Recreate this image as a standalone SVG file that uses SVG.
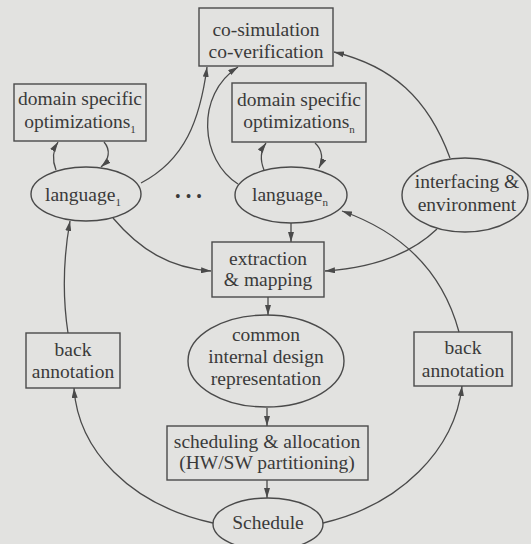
<svg xmlns="http://www.w3.org/2000/svg" width="531" height="544" viewBox="0 0 531 544">
<defs>
<marker id="ah" viewBox="0 0 10 6" refX="10" refY="3" markerWidth="10" markerHeight="6" markerUnits="userSpaceOnUse" orient="auto">
<path d="M0,0 L10,3 L0,6 Z" fill="#4a4a4a"/>
</marker>
</defs>
<style>
.bg{fill:#e2e2e0}
.n{fill:none;stroke:#4a4a4a;stroke-width:1.4}
.t{font-family:'Liberation Serif','Noto Serif','DejaVu Serif','FreeSerif','Tinos','Times New Roman',Times,serif;font-size:19.5px;fill:#3a3a3a;text-anchor:middle}
.s{font-size:11px}
.d{font-size:16px;letter-spacing:5px}
.c{fill:none;stroke:#4a4a4a;stroke-width:1.3;marker-end:url(#ah)}
</style>
<rect class="bg" x="0" y="0" width="531" height="544"/>
<g id="connectors">
<path class="c" d="M56 170 C52 160 53 150 58 142"/>
<path class="c" d="M104 142 C111 150 109 160 101 167"/>
<path class="c" d="M141 183 C185 160 200 120 207 67"/>
<path class="c" d="M238 184 C200 160 195 95 238 67"/>
<path class="c" d="M264 170 C260 160 261 150 266 143"/>
<path class="c" d="M315 143 C323 150 323 160 319 168"/>
<path class="c" d="M450 158 C428 98 392 66 334 52"/>
<path class="c" d="M113 218 C140 250 170 268 211 271"/>
<path class="c" d="M291 223 L291 242"/>
<path class="c" d="M437 229 C410 255 370 268 325 271"/>
<path class="c" d="M459 332 C445 280 410 235 342 211"/>
<path class="c" d="M268 297 L268 315"/>
<path class="c" d="M267 408 L267 426"/>
<path class="c" d="M267 480 L267 498"/>
<path class="c" d="M213 523 C130 505 78 450 74 388"/>
<path class="c" d="M323 523 C400 505 455 450 462 386"/>
<path class="c" d="M68 333 C63 300 63 260 70 221"/>
</g>
<g id="cosim">
<rect class="n" x="199" y="8" width="134" height="58"/>
<text class="t" x="266" y="36">co-simulation</text>
<text class="t" x="266" y="58">co-verification</text>
</g>
<g id="dso1">
<rect class="n" x="14" y="84" width="132" height="57"/>
<text class="t" x="80" y="105">domain specific</text>
<text class="t" x="80" y="128">optimizations<tspan class="s" dy="5">1</tspan></text>
</g>
<g id="dson">
<rect class="n" x="232" y="83" width="134" height="59"/>
<text class="t" x="299" y="106">domain specific</text>
<text class="t" x="299" y="128">optimizations<tspan class="s" dy="5">n</tspan></text>
</g>
<g id="lang1">
<ellipse class="n" cx="86" cy="194" rx="55" ry="27"/>
<text class="t" x="83" y="201">language<tspan class="s" dy="5">1</tspan></text>
</g>
<g id="dots">
<text class="t d" x="191" y="202">•••</text>
</g>
<g id="langn">
<ellipse class="n" cx="291" cy="195" rx="56" ry="28"/>
<text class="t" x="290" y="201">language<tspan class="s" dy="5">n</tspan></text>
</g>
<g id="interfacing">
<ellipse class="n" cx="465" cy="195" rx="63" ry="37"/>
<text class="t" x="467" y="188">interfacing &amp;</text>
<text class="t" x="467" y="211">environment</text>
</g>
<g id="extraction">
<rect class="n" x="212" y="242" width="112" height="55"/>
<text class="t" x="268" y="265">extraction</text>
<text class="t" x="268" y="286">&amp; mapping</text>
</g>
<g id="common">
<ellipse class="n" cx="266" cy="361" rx="78" ry="46"/>
<text class="t" x="266" y="341">common</text>
<text class="t" x="266" y="363">internal design</text>
<text class="t" x="266" y="385">representation</text>
</g>
<g id="scheduling">
<rect class="n" x="167" y="426" width="201" height="54"/>
<text class="t" x="267" y="448">scheduling &amp; allocation</text>
<text class="t" x="267" y="469">(HW/SW partitioning)</text>
</g>
<g id="schedule">
<ellipse class="n" cx="268" cy="524" rx="55" ry="26"/>
<text class="t" x="268" y="529">Schedule</text>
</g>
<g id="backleft">
<rect class="n" x="26" y="333" width="94" height="55"/>
<text class="t" x="73" y="356">back</text>
<text class="t" x="73" y="378">annotation</text>
</g>
<g id="backright">
<rect class="n" x="414" y="332" width="98" height="54"/>
<text class="t" x="463" y="354">back</text>
<text class="t" x="463" y="377">annotation</text>
</g>
</svg>
